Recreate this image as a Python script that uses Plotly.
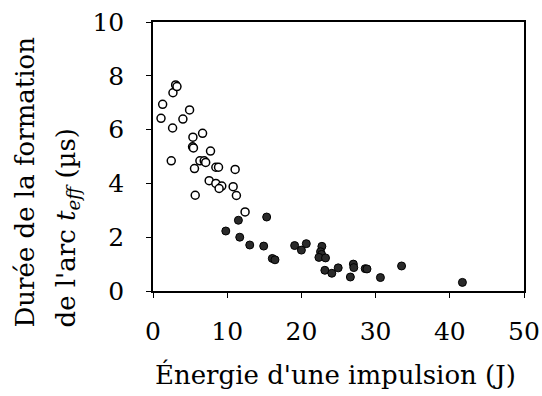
import plotly.graph_objects as go

# Open circles (low energy)
open_x = [1.08, 1.30, 2.69, 3.05, 3.23, 4.93, 4.03, 2.64, 5.38, 6.68, 5.33, 5.45, 7.75,
          2.46, 5.59, 6.32, 6.90, 7.10, 8.47, 8.83, 11.07, 7.57, 8.47, 9.27, 8.91, 10.80,
          11.24, 5.69, 12.41]
open_y = [6.42, 6.94, 7.37, 7.66, 7.60, 6.73, 6.39, 6.06, 5.72, 5.86, 5.36, 5.32, 5.20,
          4.84, 4.55, 4.84, 4.84, 4.78, 4.60, 4.60, 4.52, 4.10, 4.00, 3.90, 3.81, 3.88,
          3.55, 3.56, 2.94]

# Filled circles (high energy)
fill_x = [11.51, 15.32, 9.81, 11.69, 13.04, 14.92, 16.08, 16.44, 19.09, 20.00, 20.66,
          22.76, 22.58, 22.72, 22.36, 23.25, 23.16, 24.10, 24.96, 26.60, 27.00, 27.06,
          28.60, 28.84, 30.65, 33.50, 41.70]
fill_y = [2.63, 2.75, 2.23, 2.00, 1.71, 1.67, 1.21, 1.16, 1.69, 1.52, 1.76,
          1.66, 1.46, 1.36, 1.25, 1.23, 0.77, 0.66, 0.86, 0.52, 1.00, 0.87,
          0.83, 0.82, 0.50, 0.93, 0.32]

x_ticks = [0, 10, 20, 30, 40, 50]
y_ticks = [0, 2, 4, 6, 8, 10]

FONT = "DejaVu Serif"
TFONT = dict(family=FONT, size=26, color="black")

fig = go.Figure()
fig.add_trace(go.Scatter(
    x=open_x, y=open_y, mode="markers",
    marker=dict(symbol="circle", size=8, color="white",
                line=dict(color="black", width=1.5)),
    cliponaxis=False, showlegend=False))
fig.add_trace(go.Scatter(
    x=fill_x, y=fill_y, mode="markers",
    marker=dict(symbol="circle", size=8, color="#2a2a2a",
                line=dict(color="black", width=1)),
    cliponaxis=False, showlegend=False))

axis_common = dict(
    showgrid=False, zeroline=False, showline=True, linecolor="black", linewidth=1.5,
    mirror=True, ticks="outside", ticklen=5, tickwidth=1, tickcolor="black",
    automargin=False,
    tickfont=dict(family=FONT, size=25, color="black"),
)

fig.update_layout(
    width=542, height=396,
    margin=dict(l=153, r=18, t=22, b=105, autoexpand=False),
    paper_bgcolor="white", plot_bgcolor="white",
    font=dict(family=FONT, color="black"),
    xaxis=dict(range=[0, 50], tickvals=x_ticks, ticktext=[str(v) for v in x_ticks],
               ticklabelstandoff=12, **axis_common),
    yaxis=dict(range=[0, 10], tickvals=y_ticks, ticktext=[str(v) for v in y_ticks],
               ticklabelstandoff=17, **axis_common),
    annotations=[
        dict(text="Énergie d'une impulsion (J)", xref="paper", yref="paper",
             x=(335 - 153) / 371, y=(291 - 374) / 269, xanchor="center", yanchor="middle",
             showarrow=False, font=TFONT),
        dict(text="Durée de la formation", xref="paper", yref="paper",
             x=(24 - 153) / 371, y=(291 - 330) / 269, xanchor="center", yanchor="bottom",
             textangle=-90, showarrow=False, font=TFONT),
        dict(text="de l'arc <i>t</i><sub><i>eff</i></sub> (µs)", xref="paper", yref="paper",
             x=(67 - 153) / 371, y=(291 - 330) / 269, xanchor="center", yanchor="bottom",
             textangle=-90, showarrow=False, font=TFONT),
    ],
)

fig.write_html("out.html", post_script="document.body.style.margin='0';",
               config={"displayModeBar": False})
